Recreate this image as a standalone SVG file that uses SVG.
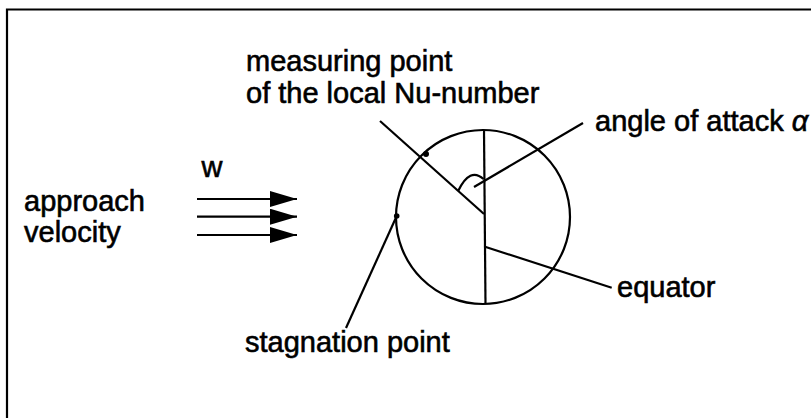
<svg xmlns="http://www.w3.org/2000/svg" width="811" height="418" viewBox="0 0 811 418">
<style>
.t{font-family:"Liberation Sans",Arial,sans-serif;font-size:29px;fill:#000;stroke:#000;stroke-width:0.6}
.ln{stroke:#000;stroke-width:2.2;fill:none}
</style>
<defs>
<marker id="ah" markerWidth="27" markerHeight="16" refX="27" refY="8" markerUnits="userSpaceOnUse" orient="auto">
<path d="M0,0 L27,8 L0,16 Z" fill="#000"/>
</marker>
</defs>
<rect width="811" height="418" fill="#fff"/>
<path class="ln" d="M7,418 L7,9.5 L811,9.5" stroke-width="2.5"/>
<g id="sphere">
<circle class="ln" cx="483" cy="217" r="87"/>
<line class="ln" x1="484" y1="130" x2="485.5" y2="304"/>
<path class="ln" d="M458.3,190.7 Q470,166.6 483.5,179"/>
</g>
<g id="connectors">
<line class="ln" x1="380" y1="121" x2="484" y2="214"/>
<line class="ln" x1="583" y1="123" x2="474" y2="187"/>
<line class="ln" x1="485" y1="246.7" x2="611.7" y2="287.7"/>
<line class="ln" x1="396.7" y1="216" x2="346" y2="328"/>
<line class="ln" x1="197" y1="199" x2="297" y2="199" marker-end="url(#ah)"/>
<line class="ln" x1="197" y1="216.7" x2="297" y2="216.7" marker-end="url(#ah)"/>
<line class="ln" x1="197" y1="235" x2="297" y2="235" marker-end="url(#ah)"/>
<circle cx="426" cy="154" r="3" fill="#000"/>
<circle cx="396.7" cy="216" r="2.8" fill="#000"/>
</g>
<g id="label-measuring">
<text class="t" x="246" y="71">measuring point</text>
<text class="t" x="246" y="103">of the local Nu-number</text>
</g>
<g id="label-angle">
<text class="t" x="595" y="130.5">angle of attack <tspan font-style="italic">α</tspan></text>
</g>
<g id="label-w">
<text class="t" x="201.5" y="176.5">w</text>
</g>
<g id="label-approach">
<text class="t" x="24" y="210.5">approach</text>
<text class="t" x="24" y="242">velocity</text>
</g>
<g id="label-equator">
<text class="t" x="617" y="297">equator</text>
</g>
<g id="label-stagnation">
<text class="t" x="245" y="351.5">stagnation point</text>
</g>
</svg>
